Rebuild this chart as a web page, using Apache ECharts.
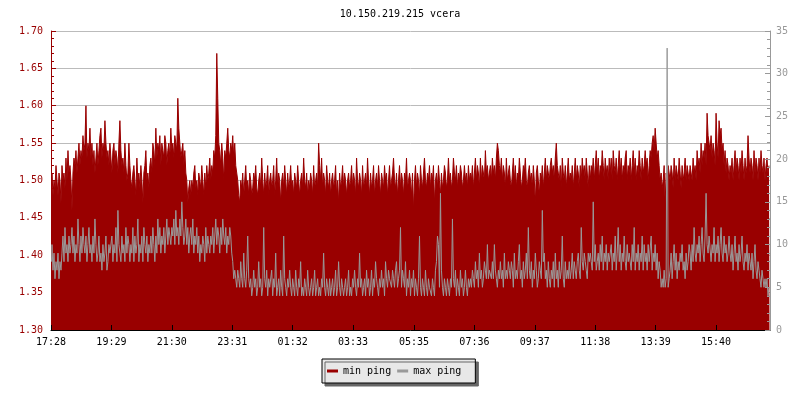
<!DOCTYPE html>
<html>
<head>
<meta charset="utf-8">
<script src="https://cdn.jsdelivr.net/npm/echarts@6/dist/echarts.min.js"></script>
<style>html,body{margin:0;padding:0;background:#fff}#c{width:800px;height:400px}</style>
</head>
<body>
<div id="c"></div>
<script>
const titleText = '10.150.219.215 vcera';
const tickLabels = ['17:28','19:29','21:30','23:31','01:32','03:33','05:35','07:36','09:37','11:38','13:39','15:40'];
const sampleMinutes = 2;
const spanMinutes = 1440;

const minPing = [
1.49,1.51,1.48,1.50,1.49,1.52,1.50,1.48,1.51,1.50,1.47,1.52,1.50,1.51,1.49,1.53,1.50,1.54,1.51,1.52,
1.50,1.46,1.51,1.53,1.52,1.54,1.51,1.53,1.55,1.52,1.54,1.53,1.56,1.54,1.55,1.60,1.53,1.55,1.54,1.57,
1.53,1.55,1.52,1.54,1.51,1.53,1.55,1.52,1.54,1.56,1.57,1.53,1.55,1.54,1.58,1.55,1.53,1.54,1.52,1.55,
1.53,1.51,1.54,1.55,1.52,1.54,1.53,1.51,1.55,1.58,1.54,1.52,1.53,1.51,1.55,1.52,1.50,1.51,1.55,1.52,
1.50,1.49,1.51,1.52,1.50,1.48,1.53,1.50,1.51,1.49,1.52,1.50,1.47,1.51,1.52,1.54,1.50,1.51,1.49,1.52,
1.53,1.51,1.55,1.54,1.52,1.57,1.53,1.55,1.54,1.56,1.52,1.55,1.54,1.53,1.56,1.55,1.52,1.54,1.55,1.53,
1.57,1.54,1.55,1.53,1.56,1.55,1.54,1.61,1.57,1.55,1.53,1.54,1.55,1.52,1.54,1.51,1.50,1.47,1.49,1.50,
1.48,1.50,1.49,1.51,1.52,1.49,1.50,1.48,1.51,1.50,1.49,1.52,1.50,1.48,1.51,1.49,1.52,1.50,1.51,1.53,
1.50,1.52,1.51,1.54,1.53,1.56,1.67,1.61,1.55,1.54,1.52,1.55,1.53,1.50,1.54,1.53,1.55,1.57,1.54,1.53,
1.55,1.54,1.56,1.53,1.55,1.52,1.51,1.50,1.48,1.47,1.50,1.49,1.51,1.48,1.50,1.52,1.49,1.50,1.48,1.51,
1.50,1.48,1.49,1.51,1.50,1.52,1.49,1.48,1.50,1.51,1.49,1.53,1.50,1.48,1.51,1.49,1.50,1.52,1.48,1.50,
1.51,1.49,1.50,1.52,1.48,1.50,1.53,1.49,1.51,1.50,1.47,1.50,1.51,1.49,1.52,1.50,1.48,1.51,1.49,1.50,
1.52,1.49,1.50,1.48,1.51,1.50,1.49,1.52,1.50,1.48,1.50,1.51,1.49,1.53,1.50,1.49,1.51,1.48,1.50,1.49,
1.51,1.50,1.48,1.52,1.49,1.50,1.51,1.49,1.55,1.52,1.50,1.53,1.49,1.51,1.50,1.48,1.52,1.50,1.49,1.51,
1.48,1.50,1.51,1.49,1.50,1.52,1.48,1.50,1.47,1.51,1.49,1.50,1.52,1.49,1.51,1.50,1.48,1.50,1.51,1.49,
1.50,1.52,1.49,1.51,1.50,1.48,1.53,1.50,1.49,1.51,1.50,1.48,1.52,1.49,1.50,1.51,1.49,1.53,1.50,1.48,
1.51,1.49,1.50,1.52,1.48,1.50,1.51,1.49,1.52,1.50,1.48,1.51,1.50,1.49,1.52,1.50,1.51,1.48,1.50,1.52,
1.49,1.50,1.51,1.53,1.50,1.49,1.51,1.48,1.50,1.52,1.49,1.51,1.50,1.48,1.51,1.50,1.53,1.49,1.50,1.51,
1.50,1.48,1.51,1.46,1.50,1.52,1.49,1.51,1.50,1.48,1.52,1.50,1.49,1.51,1.53,1.50,1.49,1.51,1.50,1.52,
1.49,1.51,1.50,1.52,1.47,1.50,1.51,1.49,1.52,1.50,1.48,1.51,1.49,1.50,1.52,1.51,1.49,1.50,1.53,1.50,
1.51,1.49,1.50,1.53,1.51,1.50,1.52,1.49,1.51,1.50,1.52,1.51,1.49,1.50,1.52,1.50,1.51,1.49,1.52,1.50,
1.51,1.50,1.52,1.49,1.51,1.53,1.50,1.52,1.51,1.49,1.53,1.50,1.52,1.51,1.50,1.54,1.51,1.52,1.50,1.51,
1.52,1.50,1.53,1.51,1.52,1.50,1.53,1.55,1.54,1.52,1.51,1.53,1.50,1.52,1.51,1.49,1.53,1.50,1.51,1.52,
1.50,1.49,1.51,1.53,1.50,1.52,1.49,1.51,1.50,1.53,1.51,1.49,1.50,1.52,1.51,1.53,1.50,1.49,1.51,1.52,
1.50,1.51,1.49,1.52,1.50,1.47,1.51,1.52,1.50,1.48,1.51,1.50,1.52,1.49,1.51,1.53,1.50,1.52,1.51,1.50,
1.52,1.53,1.51,1.52,1.50,1.53,1.55,1.52,1.51,1.50,1.52,1.49,1.53,1.51,1.50,1.52,1.49,1.51,1.53,1.50,
1.51,1.50,1.52,1.49,1.51,1.53,1.50,1.52,1.51,1.49,1.52,1.50,1.53,1.51,1.52,1.50,1.53,1.51,1.49,1.52,
1.50,1.52,1.51,1.53,1.50,1.52,1.54,1.51,1.53,1.50,1.52,1.51,1.54,1.52,1.50,1.53,1.51,1.52,1.50,1.53,
1.51,1.53,1.50,1.54,1.52,1.51,1.53,1.50,1.52,1.54,1.51,1.53,1.50,1.52,1.51,1.53,1.54,1.50,1.52,1.51,
1.53,1.50,1.52,1.54,1.51,1.53,1.50,1.52,1.51,1.54,1.52,1.50,1.53,1.51,1.52,1.54,1.52,1.53,1.50,1.52,
1.54,1.53,1.55,1.56,1.54,1.57,1.55,1.53,1.54,1.52,1.50,1.51,1.49,1.50,1.52,1.47,1.51,1.50,1.52,1.51,
1.50,1.52,1.51,1.49,1.53,1.50,1.52,1.51,1.50,1.53,1.51,1.49,1.52,1.50,1.51,1.53,1.50,1.52,1.51,1.50,
1.52,1.51,1.50,1.53,1.51,1.52,1.50,1.54,1.52,1.53,1.51,1.55,1.52,1.54,1.53,1.55,1.52,1.59,1.56,1.55,
1.54,1.56,1.53,1.55,1.54,1.52,1.59,1.55,1.53,1.58,1.56,1.57,1.54,1.55,1.52,1.54,1.51,1.53,1.52,1.50,
1.52,1.51,1.53,1.50,1.52,1.54,1.51,1.53,1.52,1.50,1.53,1.51,1.54,1.52,1.50,1.53,1.51,1.52,1.56,1.53,
1.51,1.53,1.52,1.50,1.54,1.51,1.53,1.52,1.50,1.53,1.51,1.54,1.52,1.51,1.53,1.50,1.52,1.53,1.51,1.52
];

const maxPing = [
8,10,7,9,6,8,7,9,6,8,7,9,11,8,12,9,10,8,11,9,
10,12,9,11,8,10,9,13,10,8,11,9,12,10,9,11,8,10,12,9,
10,8,11,9,13,10,8,9,11,8,9,7,10,8,9,11,7,8,10,9,
9,11,8,10,9,12,8,14,10,9,8,11,9,10,8,12,9,11,10,8,
10,9,12,8,11,9,10,13,8,10,9,11,8,12,10,9,11,8,10,9,
11,9,12,10,8,11,9,13,10,12,9,11,10,12,9,11,13,10,12,11,
10,12,11,13,10,14,11,12,10,13,11,15,12,10,11,13,10,12,9,11,
12,10,13,9,11,10,12,9,11,8,10,9,11,10,8,12,9,11,10,9,
11,10,12,9,11,13,10,12,11,9,12,10,13,11,10,12,9,11,10,12,
11,9,8,6,7,6,5,7,6,5,8,6,5,9,6,5,7,11,6,5,
6,4,5,7,5,6,4,5,8,5,6,4,5,12,6,5,7,4,6,5,
5,7,4,6,5,9,4,5,6,4,7,5,4,11,6,5,4,6,5,7,
5,4,6,5,4,7,5,4,6,5,8,4,5,4,6,5,4,7,5,4,
5,6,4,5,7,4,5,6,4,5,4,6,5,9,5,4,6,5,4,6,
4,5,6,4,5,7,4,5,8,5,4,6,5,4,5,6,4,5,7,4,
5,4,6,5,7,5,4,6,5,9,5,6,4,5,6,4,7,5,6,4,
5,7,4,6,5,8,6,5,4,6,5,7,5,6,4,8,6,5,7,6,
6,5,7,6,5,7,8,5,6,7,12,5,7,6,5,8,4,6,5,7,
4,6,5,7,4,6,5,4,6,11,5,4,6,5,4,7,5,4,6,5,
5,4,6,5,4,7,8,11,10,5,16,7,5,4,6,5,4,6,5,4,
6,5,13,6,5,7,4,6,5,4,7,5,6,4,5,7,5,4,6,5,
6,5,7,6,5,8,6,7,5,9,6,7,5,6,8,7,6,10,6,7,
7,6,8,6,10,7,6,5,7,6,8,6,7,5,9,6,7,6,8,7,
6,8,7,5,9,6,7,6,8,10,6,7,5,8,6,7,9,6,12,7,
6,8,5,7,6,9,7,5,6,8,7,6,14,8,9,6,7,5,8,6,
5,7,6,8,5,9,6,7,5,8,6,7,11,6,5,8,6,7,6,8,
6,7,9,6,8,7,6,8,9,7,6,12,8,7,9,8,7,6,9,8,
9,8,7,15,8,10,7,8,9,7,10,8,11,7,9,8,10,7,9,8,
8,10,7,9,8,11,7,9,12,8,10,7,9,8,11,8,7,10,8,9,
9,7,10,8,12,7,9,8,10,7,9,8,11,7,10,8,9,7,10,8,
8,11,7,9,8,10,7,9,6,8,7,5,6,5,7,5,6,33,5,6,
7,9,6,8,10,7,9,6,8,7,9,8,10,7,8,6,9,7,8,10,
9,7,10,8,12,9,8,10,9,11,8,10,12,9,8,11,16,10,9,11,
11,8,10,9,12,8,10,9,11,8,10,12,9,8,11,9,10,8,9,11,
9,8,10,7,9,11,8,9,7,10,8,9,11,8,7,9,8,10,7,9,
8,7,9,6,8,10,7,6,8,7,6,5,7,6,5,6,5,6,4,5
];

const FONT = 'DejaVu Sans Mono';
const RED = '#990000';
const GRAY = '#999999';

function toMin(s){ const p = s.split(':'); return (+p[0])*60 + (+p[1]); }
const t0 = toMin(tickLabels[0]);
const tickOffsets = tickLabels.map(s => (toMin(s) - t0 + 1440) % 1440);
const labelMap = {};
tickOffsets.forEach((o, i) => { labelMap[o] = tickLabels[i]; });

const half = sampleMinutes / 2;
const minData = minPing.map((v, i) => [i * sampleMinutes + half, v]);
const maxData = maxPing.map((v, i) => [i * sampleMinutes + half, v]);

const chart = echarts.init(document.getElementById('c'), null, {renderer: 'canvas'});
chart.setOption({
  animation: false,
  backgroundColor: '#ffffff',
  title: {
    text: titleText, left: 'center', top: 4,
    textStyle: {fontFamily: FONT, fontSize: 10, fontWeight: 'normal', color: '#000'}
  },
  legend: {
    left: 322, top: 359,
    data: ['min ping', 'max ping'],
    icon: 'rect', itemWidth: 11, itemHeight: 3, itemGap: 6,
    padding: [7, 14, 7, 5],
    backgroundColor: '#e8e8e8', borderColor: '#000', borderWidth: 1,
    shadowColor: '#666666', shadowBlur: 0, shadowOffsetX: 3, shadowOffsetY: 3,
    textStyle: {fontFamily: FONT, fontSize: 10, color: '#000'}
  },
  grid: {left: 51, right: 30, top: 31, bottom: 70, containLabel: false},
  xAxis: {
    type: 'value', min: 0, max: spanMinutes, z: 5,
    axisLine: {show: true, lineStyle: {color: '#000', width: 1}},
    axisTick: {show: true, inside: true, length: 5, customValues: tickOffsets, lineStyle: {color: '#000'}},
    axisLabel: {customValues: tickOffsets, formatter: v => labelMap[v] || '', margin: 7,
      fontFamily: FONT, fontSize: 10, color: '#000'},
    splitLine: {show: false}
  },
  yAxis: [
    {
      type: 'value', min: 1.30, max: 1.70, interval: 0.05, position: 'left',
      axisLine: {show: true, lineStyle: {color: RED}},
      axisTick: {show: true, inside: true, length: 5, lineStyle: {color: RED}},
      minorTick: {show: true, splitNumber: 5, length: 3, lineStyle: {color: RED}},
      axisLabel: {formatter: v => v.toFixed(2), margin: 8, fontFamily: FONT, fontSize: 10, color: RED},
      splitLine: {show: true, lineStyle: {color: '#bbbbbb', width: 1}}
    },
    {
      type: 'value', min: 0, max: 35, interval: 5, position: 'right', z: 5,
      axisLine: {show: true, lineStyle: {color: GRAY}},
      axisTick: {show: true, inside: true, length: 5, lineStyle: {color: GRAY}},
      minorTick: {show: true, splitNumber: 5, length: 3, lineStyle: {color: GRAY}},
      axisLabel: {margin: 6, fontFamily: FONT, fontSize: 10, color: GRAY},
      splitLine: {show: false}
    }
  ],
  series: [
    {
      name: 'min ping', type: 'line', yAxisIndex: 0, step: 'middle',
      data: minData, symbol: 'none', showSymbol: false, z: 2, sampling: null,
      itemStyle: {color: RED},
      lineStyle: {color: RED, width: 1},
      areaStyle: {color: RED, opacity: 1, origin: 'start'}
    },
    {
      name: 'max ping', type: 'line', yAxisIndex: 1, step: 'middle',
      data: maxData, symbol: 'none', showSymbol: false, z: 3,
      itemStyle: {color: GRAY},
      lineStyle: {color: GRAY, width: 1}
    }
  ]
});
</script>
</body>
</html>
